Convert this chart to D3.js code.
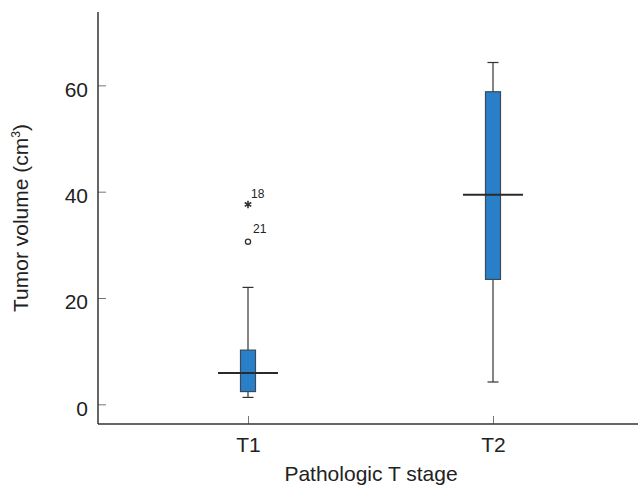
<!DOCTYPE html>
<html>
<head>
<meta charset="utf-8">
<script src="https://cdn.jsdelivr.net/npm/d3@7"></script>
<style>
  body { margin: 0; background: #fff; }
  text { font-family: "Liberation Sans", Arial, sans-serif; fill: #222; }
</style>
</head>
<body>
<script>
// categories and box statistics
var stages = ["T1", "T2"];
var whisker_low = [1.3, 4.2];
var q1 = [2.4, 23.5];
var medians = [5.9, 39.4];
var q3 = [10.2, 58.8];
var whisker_high = [22.0, 64.3];
var y_ticks = [0, 20, 40, 60];

// outliers, one entry each
var outlier_stage = ["T1", "T1"];
var outlier_value = [30.6, 37.6];
var outlier_label = ["21", "18"];
var outlier_kind = ["circle", "star"];

var W = 640, H = 489;
// plot edges (window.top is reserved, so use an object)
var plot = {left: 98, right: 638, top: 12, bottom: 424};

var svg = d3.select("body").append("svg")
	.attr("width", W)
	.attr("height", H);

// scales
var x = d3.scalePoint().domain(stages).range([plot.left + 3, plot.right + 2]).padding(0.6);
var y = d3.scaleLinear().domain([-3.7, 73.8]).range([plot.bottom, plot.top]);

// y axis, ticks pointing inwards
var yAxis = svg.append("g")
	.attr("transform", "translate(" + plot.left + ",0)")
	.call(d3.axisRight(y).tickValues(y_ticks).tickSize(8).tickFormat(d3.format("d")));
yAxis.select(".domain").remove();
yAxis.selectAll(".tick line").attr("stroke", "#777").attr("stroke-width", 1);
yAxis.selectAll(".tick text")
	.attr("x", -10)
	.attr("dy", "0.52em")
	.style("text-anchor", "end")
	.attr("font-size", 21);

// x axis, ticks pointing upwards
var xAxis = svg.append("g")
	.attr("transform", "translate(0," + plot.bottom + ")")
	.call(d3.axisTop(x).tickSize(8));
xAxis.select(".domain").remove();
xAxis.selectAll(".tick line").attr("stroke", "#777").attr("stroke-width", 1);
xAxis.selectAll(".tick text")
	.attr("y", 28)
	.attr("dy", 0)
	.attr("font-size", 21);

// axis lines
svg.append("line")
	.attr("x1", plot.left).attr("x2", plot.left)
	.attr("y1", plot.top).attr("y2", plot.bottom)
	.attr("stroke", "#333").attr("stroke-width", 1.5);
svg.append("line")
	.attr("x1", plot.left).attr("x2", plot.right)
	.attr("y1", plot.bottom).attr("y2", plot.bottom)
	.attr("stroke", "#333").attr("stroke-width", 1.5);

// boxes
var boxW = 15, capW = 11, medW = 60;
stages.forEach(function(s, i) {
	var cx = x(s);
	var g = svg.append("g");
	// whiskers
	g.append("line")
		.attr("x1", cx).attr("x2", cx)
		.attr("y1", y(whisker_low[i])).attr("y2", y(q1[i]))
		.attr("stroke", "#333").attr("stroke-width", 1.2);
	g.append("line")
		.attr("x1", cx).attr("x2", cx)
		.attr("y1", y(q3[i])).attr("y2", y(whisker_high[i]))
		.attr("stroke", "#333").attr("stroke-width", 1.2);
	// caps
	[whisker_low[i], whisker_high[i]].forEach(function(v) {
		g.append("line")
			.attr("x1", cx - capW / 2).attr("x2", cx + capW / 2)
			.attr("y1", y(v)).attr("y2", y(v))
			.attr("stroke", "#333").attr("stroke-width", 1.2);
	});
	// box
	g.append("rect")
		.attr("x", cx - boxW / 2)
		.attr("y", y(q3[i]))
		.attr("width", boxW)
		.attr("height", y(q1[i]) - y(q3[i]))
		.attr("fill", "#2a80c8")
		.attr("stroke", "#3a4a5a")
		.attr("stroke-width", 1.2);
	// median
	g.append("line")
		.attr("x1", cx - medW / 2).attr("x2", cx + medW / 2)
		.attr("y1", y(medians[i])).attr("y2", y(medians[i]))
		.attr("stroke", "#2a2a2a").attr("stroke-width", 2);
});

// outliers, labels set a little up and right of the mark
outlier_value.forEach(function(v, i) {
	var cx = x(outlier_stage[i]), cy = y(v);
	var dx = 5, dy = -9;
	if (outlier_kind[i] == "circle") {
		svg.append("circle")
			.attr("cx", cx).attr("cy", cy).attr("r", 2.6)
			.attr("fill", "none").attr("stroke", "#333").attr("stroke-width", 1.3);
	} else {
		dx = 3; dy = -6;
		svg.append("path")
			.attr("transform", "translate(" + cx + "," + cy + ")")
			.attr("d", d3.symbol().type(d3.symbolAsterisk).size(40)())
			.attr("fill", "none").attr("stroke", "#333").attr("stroke-width", 1.6);
	}
	svg.append("text")
		.attr("x", cx + dx)
		.attr("y", cy + dy)
		.attr("font-size", 12)
		.text(outlier_label[i]);
});

// axis titles
var ylab = svg.append("text")
	.attr("transform", "translate(28,218) rotate(-90)")
	.style("text-anchor", "middle")
	.attr("font-size", 21);
ylab.append("tspan").text("Tumor volume (cm");
ylab.append("tspan").attr("font-size", 12).attr("dy", -8).text("3");
ylab.append("tspan").attr("dy", 8).text(")");

svg.append("text")
	.attr("x", 371)
	.attr("y", 481)
	.style("text-anchor", "middle")
	.attr("font-size", 21)
	.text("Pathologic T stage");
</script>
</body>
</html>
